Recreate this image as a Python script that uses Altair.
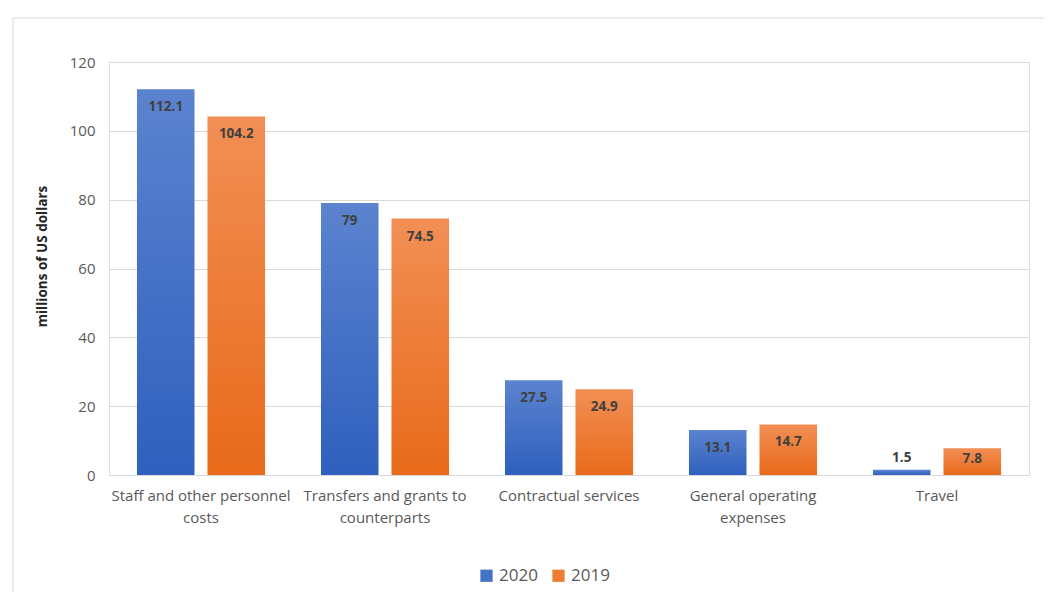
import altair as alt
import pandas as pd

categories = ["Staff and other personnel costs", "Transfers and grants to counterparts",
              "Contractual services", "General operating expenses", "Travel"]
label_lines = [["Staff and other personnel", "costs"], ["Transfers and grants to", "counterparts"],
               ["Contractual services"], ["General operating", "expenses"], ["Travel"]]
years = ["2020", "2019"]
values_2020 = [112.1, 79, 27.5, 13.1, 1.5]
values_2019 = [104.2, 74.5, 24.9, 14.7, 7.8]

rows = []
for c, a, b in zip(categories, values_2020, values_2019):
    rows.append({"category": c, "year": "2020", "value": a})
    rows.append({"category": c, "year": "2019", "value": b})
df = pd.DataFrame(rows)

FONT = "Open Sans"
W, H = 920, 413

parts = []
for c, lines in zip(categories, label_lines):
    arr = "[" + ",".join("'" + l + "'" for l in lines) + "]"
    parts.append(f"datum.label == '{c}' ? {arr} : ")
label_expr = "".join(parts) + "datum.label"

x_enc = alt.X("category:N", sort=categories,
              scale=alt.Scale(paddingInner=0.304, paddingOuter=0.152),
              axis=alt.Axis(title=None, labelAngle=0, labelExpr=label_expr, ticks=False,
                            domain=False, labelFont=FONT, labelFontSize=15, labelColor="#595959",
                            labelPadding=13, labelLineHeight=22))
xo_enc = alt.XOffset("year:N", sort=years,
                     scale=alt.Scale(domain=years, paddingInner=0.184, paddingOuter=0))
y_enc = alt.Y("value:Q", scale=alt.Scale(domain=[0, 120]),
              axis=alt.Axis(values=[0, 20, 40, 60, 80, 100, 120], title="millions of US dollars",
                            ticks=False, domain=False, gridColor="#d9d9d9",
                            labelFont=FONT, labelFontSize=15, labelColor="#595959", labelPadding=14,
                            titleFont=FONT, titleFontSize=13.5, titleFontWeight="bold",
                            titleColor="#262626", titleX=-60, titleY=194))

grads = {
    "2020": ("#2f60be", "#5b83cf"),
    "2019": ("#e86a1a", "#f28f55"),
}

base = alt.Chart(df)
layers = []
for yr in years:
    bot, top = grads[yr]
    layers.append(
        base.transform_filter(alt.datum.year == yr).mark_bar(
            color=alt.Gradient(gradient="linear", stops=[alt.GradientStop(offset=0, color=bot),
                                                         alt.GradientStop(offset=1, color=top)],
                               x1=0, y1=1, x2=0, y2=0)
        ).encode(x=x_enc, xOffset=xo_enc, y=y_enc)
    )

legend_layer = base.mark_square(opacity=0, size=0).encode(
    x=x_enc, xOffset=xo_enc, y=y_enc,
    color=alt.Color("year:N", sort=years,
                    scale=alt.Scale(domain=years, range=["#4472c4", "#ed7d31"]),
                    legend=alt.Legend(title=None, orient="none", direction="horizontal",
                                      legendX=369, legendY=505, symbolType="square", symbolSize=150,
                                      symbolOpacity=1, symbolStrokeWidth=0,
                                      labelFont=FONT, labelFontSize=17, labelColor="#595959",
                                      columnPadding=12, labelOffset=4))
)

def value_text(cond, dy):
    return base.transform_filter(cond).mark_text(
        font=FONT, fontSize=13.5, fontWeight="bold", color="#404040", baseline="middle", dy=dy
    ).encode(x=x_enc, xOffset=xo_enc, y=y_enc, text=alt.Text("value:Q"))

text_in = value_text(alt.datum.value >= 10, 18)
text_mid = value_text((alt.datum.value >= 5) & (alt.datum.value < 10), 11)
text_out = value_text(alt.datum.value < 5, -12)

frame_top = alt.Chart(pd.DataFrame({"k": [0]})).mark_rule(color="#d9d9d9", strokeWidth=1).encode(
    x=alt.value(-96), x2=alt.value(935), y=alt.value(-44))
frame_left = alt.Chart(pd.DataFrame({"k": [0]})).mark_rule(color="#d9d9d9", strokeWidth=1).encode(
    x=alt.value(-96), y=alt.value(-44), y2=alt.value(530))

chart = alt.layer(frame_top, frame_left, *layers, text_in, text_mid, text_out, legend_layer).properties(
    width=W, height=H, padding={"left": 4, "top": 9, "right": 0, "bottom": 0}
).configure_view(stroke=None).configure(background="white")

chart.save("out.html", embed_options={"renderer": "svg", "actions": False})
